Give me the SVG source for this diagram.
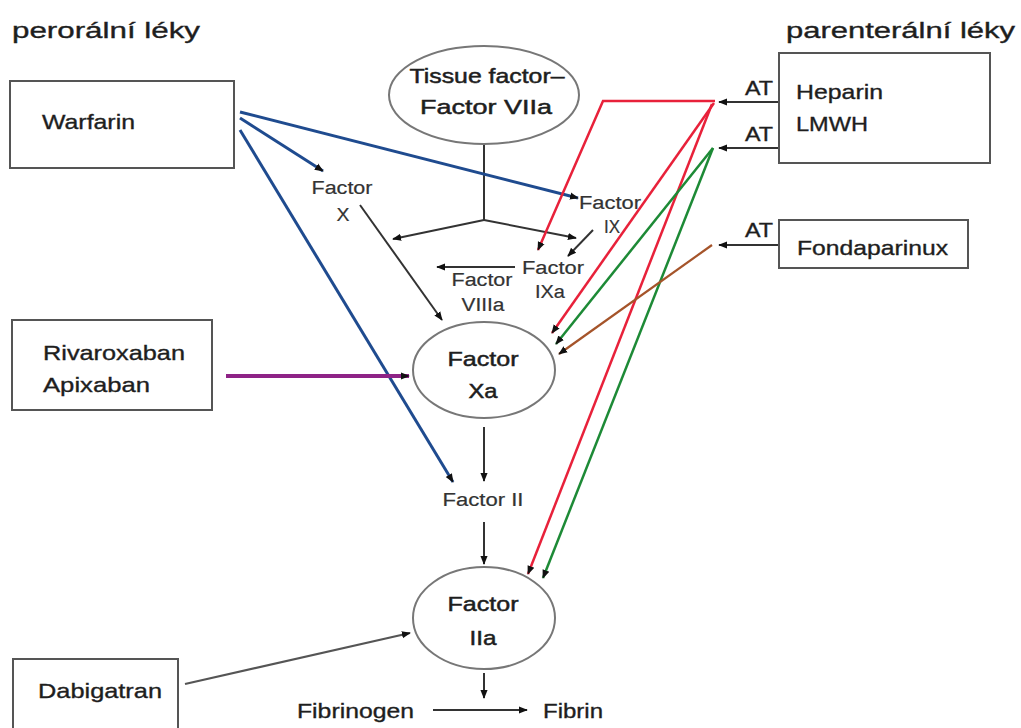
<svg xmlns="http://www.w3.org/2000/svg" width="1021" height="728" viewBox="0 0 1021 728">
<defs>
<marker id="ah" viewBox="0 0 10 10" refX="9" refY="5" markerWidth="9" markerHeight="9" markerUnits="userSpaceOnUse" orient="auto"><path d="M0,1 L10,5 L0,9 z" fill="#111"/></marker>
<style>
text{font-family:"Liberation Sans",Arial,sans-serif;fill:#1e1e1e;stroke:#1e1e1e;stroke-width:0.35}
.title{font-size:22px}
.box{font-size:21px}
.big{font-size:21px;stroke-width:0.5}
.sm{font-size:18px;fill:#333;stroke:#333;stroke-width:0.2}
.at{font-size:20px}
.node{fill:#fff;stroke:#555;stroke-width:2}
.ell{fill:#fff;stroke:#777;stroke-width:2}
.g{stroke:#333;stroke-width:2;fill:none}
.blue{stroke:#1f4b8f;stroke-width:3;fill:none}
.red{stroke:#e8213a;stroke-width:2.5;fill:none}
.green{stroke:#1d8a36;stroke-width:2.5;fill:none}
.brown{stroke:#a5542a;stroke-width:2.2;fill:none}
.purple{stroke:#8e2386;stroke-width:4;fill:none}
.arr{marker-end:url(#ah)}
</style>
</defs>
<rect width="1021" height="728" fill="#fff"/>

<g id="titles">
<text class="title" x="12" y="38" textLength="188" lengthAdjust="spacingAndGlyphs">perorální léky</text>
<text class="title" x="786" y="38" textLength="229" lengthAdjust="spacingAndGlyphs">parenterální léky</text>
</g>

<g id="connectors">
<path class="g" d="M484,143 L484,220"/>
<path class="g arr" d="M484,220 L393,239"/>
<path class="g arr" d="M484,220 L576,238"/>
<path class="g arr" d="M360,205 L442,320"/>
<path class="g arr" d="M593,230 L568,256"/>
<path class="g arr" d="M515,267 L437,267"/>
<path class="g arr" d="M484,427 L484,481"/>
<path class="g arr" d="M484,522 L484,564"/>
<path class="g arr" d="M484,673 L484,698"/>
<path class="g arr" d="M433,710 L527,710"/>
<path class="g arr" style="stroke:#555;stroke-width:2.2" d="M185,684 L410,633"/>
<path class="g arr" d="M779,102 L719,102"/>
<path class="g arr" d="M779,148 L719,148"/>
<path class="g arr" d="M779,245 L719,245"/>
<path class="blue arr" d="M240,112 L578,198"/>
<path class="blue arr" d="M240,118 L323,171"/>
<path class="blue arr" d="M240,130 L453,482"/>
<path class="purple arr" d="M226,376 L409,376"/>
<path class="red arr" d="M715,101 L603,101 L538,250"/>
<path class="red arr" d="M714,103 L552,333"/>
<path class="red arr" d="M712,104 L528,574"/>
<path class="green arr" d="M713,148 L556,344"/>
<path class="green arr" d="M713,148 L543,578"/>
<path class="brown arr" d="M712,245 L559,354"/>
</g>

<g id="warfarin">
<rect class="node" x="10" y="81" width="224" height="87"/>
<text class="box" x="42" y="129" textLength="93" lengthAdjust="spacingAndGlyphs">Warfarin</text>
</g>

<g id="rivaroxaban">
<rect class="node" x="12" y="320" width="200" height="90"/>
<text class="box" x="43" y="360" textLength="142" lengthAdjust="spacingAndGlyphs">Rivaroxaban</text>
<text class="box" x="43" y="392" textLength="107" lengthAdjust="spacingAndGlyphs">Apixaban</text>
</g>

<g id="dabigatran">
<rect class="node" x="13" y="659" width="165" height="80"/>
<text class="box" x="38" y="698" textLength="124" lengthAdjust="spacingAndGlyphs">Dabigatran</text>
</g>

<g id="heparin">
<rect class="node" x="779" y="53" width="211" height="110"/>
<text class="box" x="796" y="99" textLength="87" lengthAdjust="spacingAndGlyphs">Heparin</text>
<text class="box" x="796" y="131" textLength="72" lengthAdjust="spacingAndGlyphs">LMWH</text>
<text class="at" x="745" y="95" textLength="28" lengthAdjust="spacingAndGlyphs">AT</text>
<text class="at" x="745" y="141" textLength="28" lengthAdjust="spacingAndGlyphs">AT</text>
</g>

<g id="fondaparinux">
<rect class="node" x="779" y="220" width="189" height="48"/>
<text class="box" x="797" y="255" textLength="151" lengthAdjust="spacingAndGlyphs">Fondaparinux</text>
<text class="at" x="745" y="237" textLength="28" lengthAdjust="spacingAndGlyphs">AT</text>
</g>

<g id="tissue-factor">
<ellipse class="ell" cx="484" cy="95" rx="95" ry="49"/>
<text class="big" x="487" y="83" text-anchor="middle" textLength="155" lengthAdjust="spacingAndGlyphs">Tissue factor–</text>
<text class="big" x="486" y="114" text-anchor="middle" textLength="132" lengthAdjust="spacingAndGlyphs">Factor VIIa</text>
</g>

<g id="factor-x">
<text class="sm" x="342" y="194" text-anchor="middle" textLength="61" lengthAdjust="spacingAndGlyphs">Factor</text>
<text class="sm" x="343" y="221" text-anchor="middle" textLength="13" lengthAdjust="spacingAndGlyphs">X</text>
</g>

<g id="factor-ix">
<text class="sm" x="610" y="209" text-anchor="middle" textLength="62" lengthAdjust="spacingAndGlyphs">Factor</text>
<text class="sm" x="612" y="233" text-anchor="middle" textLength="16" lengthAdjust="spacingAndGlyphs">IX</text>
</g>

<g id="factor-ixa">
<text class="sm" x="553" y="274" text-anchor="middle" textLength="62" lengthAdjust="spacingAndGlyphs">Factor</text>
<text class="sm" x="550" y="298" text-anchor="middle" textLength="30" lengthAdjust="spacingAndGlyphs">IXa</text>
</g>

<g id="factor-viiia">
<text class="sm" x="482" y="286" text-anchor="middle" textLength="61" lengthAdjust="spacingAndGlyphs">Factor</text>
<text class="sm" x="483" y="311" text-anchor="middle" textLength="43" lengthAdjust="spacingAndGlyphs">VIIIa</text>
</g>

<g id="factor-xa">
<ellipse class="ell" cx="484" cy="370" rx="71" ry="48"/>
<text class="big" x="483" y="366" text-anchor="middle" textLength="71" lengthAdjust="spacingAndGlyphs">Factor</text>
<text class="big" x="483" y="398" text-anchor="middle" textLength="29" lengthAdjust="spacingAndGlyphs">Xa</text>
</g>

<g id="factor-ii">
<text class="sm" x="483" y="506" text-anchor="middle" textLength="81" lengthAdjust="spacingAndGlyphs">Factor II</text>
</g>

<g id="factor-iia">
<ellipse class="ell" cx="484" cy="618" rx="71" ry="51"/>
<text class="big" x="483" y="611" text-anchor="middle" textLength="71" lengthAdjust="spacingAndGlyphs">Factor</text>
<text class="big" x="483" y="645" text-anchor="middle" textLength="27" lengthAdjust="spacingAndGlyphs">IIa</text>
</g>

<g id="fibrinogen">
<text class="box" x="297" y="718" textLength="117" lengthAdjust="spacingAndGlyphs">Fibrinogen</text>
</g>
<g id="fibrin">
<text class="box" x="543" y="718" textLength="60" lengthAdjust="spacingAndGlyphs">Fibrin</text>
</g>
</svg>
